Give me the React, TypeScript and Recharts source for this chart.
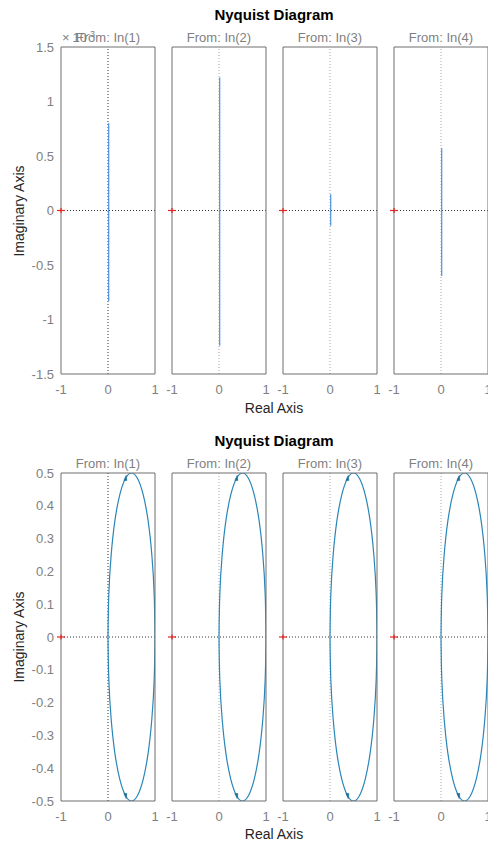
import { Line, LineChart, ReferenceDot, ReferenceLine, XAxis, YAxis } from "recharts";

const FONT = '"Liberation Sans", Arial, Helvetica, sans-serif';
const BOX = "#6e6e6e";
const TICK_TEXT = "#808080";
const SUB_TITLE = "#7f7f7f";
const LABEL = "#262626";
const ZERO_DARK = "#333333";
const ZERO_LIGHT = "#a8a8a8";
const PLUS_RED = "#e3261f";
const TOP_LINE = "#4a8fde";
const LOOP_LINE = "#2a86b8";
const ARROW = "#1f6f98";

const INPUTS = ["In(1)", "In(2)", "In(3)", "In(4)"];
const X_TICKS = [-1, 0, 1];
const TOP_Y_TICKS = [1.5, 1, 0.5, 0, -0.5, -1, -1.5];
const BOTTOM_Y_TICKS = [0.5, 0.4, 0.3, 0.2, 0.1, 0, -0.1, -0.2, -0.3, -0.4, -0.5];

// upper figure, imaginary part in units of 1e-3
const TOP_RE = [0.015, 0.015, 0.015, 0.015];
const TOP_IM_MAX = [0.8, 1.22, 0.15, 0.57];
const TOP_IM_MIN = [-0.83, -1.24, -0.14, -0.6];

// lower figure, same loop in every panel
const LOOP_RE = [1, 0.983, 0.933, 0.854, 0.75, 0.629, 0.5, 0.371, 0.25, 0.146, 0.067, 0.017, 0];
const LOOP_IM_UP = [0, 0.129, 0.25, 0.354, 0.433, 0.483, 0.5, 0.483, 0.433, 0.354, 0.25, 0.129, 0];
const LOOP_IM_DOWN = [0, -0.129, -0.25, -0.354, -0.433, -0.483, -0.5, -0.483, -0.433, -0.354, -0.25, -0.129, 0];
const ARROW_RE = [0.37, 0.37];
const ARROW_IM = [0.485, -0.485];

const BOX_LEFTS = [61, 172, 283, 394];
const BOX_W = 94;
const THIN = 0.001; // axes of zero size are not drawn

type Pt = { re: number; im: number };
type Curve = { data: Pt[]; color: string };

const zip = (re: number[], im: number[]): Pt[] => re.map((r, i) => ({ re: r, im: im[i] }));

const loopCurves: Curve[] = [
  { data: zip(LOOP_RE, LOOP_IM_UP), color: LOOP_LINE },
  { data: zip(LOOP_RE, LOOP_IM_DOWN), color: LOOP_LINE },
];
const loopArrows = zip(ARROW_RE, ARROW_IM);

const Plus = (props: any) => {
  const { cx, cy } = props;
  return (
    <g stroke={PLUS_RED} strokeWidth={1.2}>
      <line x1={cx - 4} x2={cx + 4} y1={cy} y2={cy} />
      <line x1={cx} x2={cx} y1={cy - 2.5} y2={cy + 2.5} />
    </g>
  );
};

const arrowShape = (up: boolean) => (props: any) => {
  const { cx, cy } = props;
  const d = up
    ? `M${cx - 1.5},${cy + 2.5} L${cx + 0.8},${cy - 2.5} L${cx + 1.5},${cy + 2.5} Z`
    : `M${cx - 1.5},${cy - 2.5} L${cx + 0.8},${cy + 2.5} L${cx + 1.5},${cy - 2.5} Z`;
  return <path d={d} fill={ARROW} stroke={ARROW} strokeWidth={0.6} />;
};

function Panel({
  index,
  boxTop,
  boxH,
  yTicks,
  curves,
  arrows,
}: {
  index: number;
  boxTop: number;
  boxH: number;
  yTicks: number[];
  curves: Curve[];
  arrows: Pt[];
}) {
  const first = index === 0;
  const padL = first ? 61 : 12;
  const padT = 10;
  const padR = 12;
  const axisH = 28;
  const yDomain = [yTicks[yTicks.length - 1], yTicks[0]];
  const tickFont = { fontSize: 13, fill: TICK_TEXT, fontFamily: FONT };

  return (
    <div style={{ position: "absolute", left: BOX_LEFTS[index] - padL, top: boxTop - padT }}>
      <LineChart
        width={padL + BOX_W + padR}
        height={padT + boxH + axisH}
        margin={{ top: padT, right: padR, left: first ? 0 : padL, bottom: 0 }}
      >
        <XAxis
          xAxisId="xb"
          orientation="bottom"
          mirror
          height={THIN}
          type="number"
          domain={[-1, 1]}
          ticks={X_TICKS}
          interval={0}
          allowDataOverflow
          tick={false}
          tickSize={3}
          tickLine={{ stroke: BOX }}
          axisLine={false}
        />
        <XAxis
          xAxisId="x"
          orientation="bottom"
          dataKey="re"
          type="number"
          height={axisH}
          domain={[-1, 1]}
          ticks={X_TICKS}
          interval={0}
          allowDataOverflow
          tick={tickFont}
          tickLine={false}
          tickSize={0}
          tickMargin={11}
          axisLine={{ stroke: BOX }}
        />
        <XAxis
          xAxisId="xt"
          orientation="top"
          mirror
          height={THIN}
          type="number"
          domain={[-1, 1]}
          ticks={X_TICKS}
          interval={0}
          allowDataOverflow
          tick={false}
          tickSize={3}
          tickLine={{ stroke: BOX }}
          axisLine={{ stroke: BOX }}
        />
        {first && (
          <YAxis
            yAxisId="y"
            orientation="left"
            type="number"
            width={61}
            domain={yDomain}
            ticks={yTicks}
            interval={0}
            allowDataOverflow
            tick={tickFont}
            tickLine={false}
            tickSize={0}
            tickMargin={7}
            axisLine={{ stroke: BOX }}
          />
        )}
        <YAxis
          yAxisId="yl"
          orientation="left"
          mirror
          width={THIN}
          type="number"
          domain={yDomain}
          ticks={yTicks}
          interval={0}
          allowDataOverflow
          tick={false}
          tickSize={3}
          tickLine={{ stroke: BOX }}
          axisLine={first ? false : { stroke: BOX }}
        />
        <YAxis
          yAxisId="yr"
          orientation="right"
          mirror
          width={THIN}
          type="number"
          domain={yDomain}
          ticks={yTicks}
          interval={0}
          allowDataOverflow
          tick={false}
          tickSize={3}
          tickLine={{ stroke: BOX }}
          axisLine={{ stroke: BOX }}
        />
        <ReferenceLine
          xAxisId="x"
          yAxisId="yl"
          x={0}
          stroke={first ? ZERO_DARK : ZERO_LIGHT}
          strokeDasharray="1 2"
        />
        <ReferenceLine xAxisId="x" yAxisId="yl" y={0} stroke={ZERO_DARK} strokeDasharray="1 2" />
        {curves.map((c, i) => (
          <Line
            key={i}
            xAxisId="x"
            yAxisId="yl"
            data={c.data}
            dataKey="im"
            type="natural"
            stroke={c.color}
            strokeWidth={1.2}
            dot={false}
            activeDot={false}
            isAnimationActive={false}
          />
        ))}
        {arrows.map((a, i) => (
          <ReferenceDot
            key={`a${i}`}
            xAxisId="x"
            yAxisId="yl"
            x={a.re}
            y={a.im}
            ifOverflow="visible"
            shape={arrowShape(a.im > 0)}
          />
        ))}
        <ReferenceDot
          xAxisId="x"
          yAxisId="yl"
          x={-1}
          y={0}
          ifOverflow="visible"
          shape={Plus}
        />
      </LineChart>
    </div>
  );
}

function Text({
  x,
  y,
  children,
  size = 13,
  color = LABEL,
  bold = false,
  rotate = false,
}: {
  x: number;
  y: number;
  children: any;
  size?: number;
  color?: string;
  bold?: boolean;
  rotate?: boolean;
}) {
  return (
    <div
      style={{
        position: "absolute",
        left: x,
        top: y,
        transform: `translate(-50%, -50%)${rotate ? " rotate(-90deg)" : ""}`,
        fontSize: size,
        lineHeight: 1,
        color,
        fontWeight: bold ? 700 : 400,
        whiteSpace: "nowrap",
        fontFamily: FONT,
      }}
    >
      {children}
    </div>
  );
}

function Figure({
  offset,
  boxH,
  yTicks,
  curvesFor,
  arrows,
  exponent,
}: {
  offset: number;
  boxH: number;
  yTicks: number[];
  curvesFor: (i: number) => Curve[];
  arrows: Pt[];
  exponent?: boolean;
}) {
  const boxTop = 47 + offset;
  return (
    <>
      <Text x={274} y={13.7 + offset} size={15} bold color="#000">
        Nyquist Diagram
      </Text>
      {INPUTS.map((name, i) => (
        <Panel
          key={name}
          index={i}
          boxTop={boxTop}
          boxH={boxH}
          yTicks={yTicks}
          curves={curvesFor(i)}
          arrows={arrows}
        />
      ))}
      {exponent && (
        <div
          style={{
            position: "absolute",
            left: 62,
            top: 31 + offset,
            fontSize: 13,
            lineHeight: 1,
            color: TICK_TEXT,
            fontFamily: FONT,
            whiteSpace: "nowrap",
          }}
        >
          ×<span style={{ marginLeft: 3 }}>10</span>
          <span style={{ fontSize: 9, position: "relative", top: -5 }}>-3</span>
        </div>
      )}
      {INPUTS.map((name, i) => (
        <Text key={name} x={BOX_LEFTS[i] + BOX_W / 2} y={36.5 + offset} color={SUB_TITLE}>
          From: {name}
        </Text>
      ))}
      <Text x={274} y={407.5 + offset} size={14}>
        Real Axis
      </Text>
      <Text x={19} y={boxTop + boxH / 2} size={14} rotate>
        Imaginary Axis
      </Text>
    </>
  );
}

export default function App() {
  return (
    <div
      style={{
        position: "absolute",
        left: 0,
        top: 0,
        width: 488,
        height: 844,
        background: "#fff",
        overflow: "hidden",
      }}
    >
      <Figure
        offset={0}
        boxH={327}
        yTicks={TOP_Y_TICKS}
        exponent
        arrows={[]}
        curvesFor={(i) => [
          {
            data: [
              { re: TOP_RE[i], im: TOP_IM_MAX[i] },
              { re: TOP_RE[i], im: TOP_IM_MIN[i] },
            ],
            color: TOP_LINE,
          },
        ]}
      />
      <Figure
        offset={426}
        boxH={328}
        yTicks={BOTTOM_Y_TICKS}
        arrows={loopArrows}
        curvesFor={() => loopCurves}
      />
    </div>
  );
}
